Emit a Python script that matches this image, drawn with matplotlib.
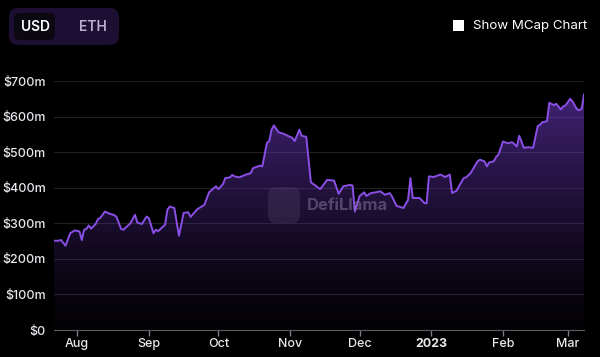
import matplotlib
matplotlib.use("Agg")
import matplotlib.pyplot as plt
import matplotlib.dates as mdates
from matplotlib.ticker import FuncFormatter
import numpy as np
import pandas as pd
from matplotlib.patches import FancyBboxPatch, Rectangle

# TVL (USD, millions) at its turning points
dates = [
    "2022-07-22", "2022-07-24", "2022-07-25", "2022-07-27", "2022-07-29", "2022-07-31",
    "2022-08-02", "2022-08-03", "2022-08-04", "2022-08-05", "2022-08-06", "2022-08-07",
    "2022-08-09", "2022-08-10", "2022-08-11", "2022-08-13", "2022-08-15", "2022-08-17",
    "2022-08-18", "2022-08-20", "2022-08-21", "2022-08-24", "2022-08-26", "2022-08-27",
    "2022-08-29", "2022-08-31", "2022-09-01", "2022-09-03", "2022-09-04", "2022-09-05",
    "2022-09-08", "2022-09-09", "2022-09-10", "2022-09-12", "2022-09-14", "2022-09-16",
    "2022-09-18", "2022-09-19", "2022-09-22", "2022-09-25", "2022-09-27", "2022-09-30",
    "2022-10-01", "2022-10-03", "2022-10-04", "2022-10-06", "2022-10-07", "2022-10-08",
    "2022-10-10", "2022-10-13", "2022-10-15", "2022-10-16", "2022-10-19", "2022-10-20",
    "2022-10-22", "2022-10-23", "2022-10-24", "2022-10-25", "2022-10-27", "2022-10-29",
    "2022-11-02", "2022-11-03", "2022-11-05", "2022-11-06", "2022-11-08", "2022-11-10",
    "2022-11-12", "2022-11-14", "2022-11-17", "2022-11-20", "2022-11-22", "2022-11-24",
    "2022-11-27", "2022-11-28", "2022-11-29", "2022-12-01", "2022-12-03", "2022-12-04",
    "2022-12-06", "2022-12-08", "2022-12-10", "2022-12-12", "2022-12-14", "2022-12-15",
    "2022-12-17", "2022-12-18", "2022-12-20", "2022-12-22", "2022-12-23", "2022-12-24",
    "2022-12-27", "2022-12-29", "2022-12-30", "2022-12-31", "2023-01-02", "2023-01-05",
    "2023-01-07", "2023-01-09", "2023-01-10", "2023-01-12", "2023-01-13", "2023-01-15",
    "2023-01-16", "2023-01-18", "2023-01-21", "2023-01-22", "2023-01-24", "2023-01-25",
    "2023-01-26", "2023-01-28", "2023-01-29", "2023-01-30", "2023-02-01", "2023-02-03",
    "2023-02-05", "2023-02-07", "2023-02-08", "2023-02-09", "2023-02-10", "2023-02-12",
    "2023-02-14", "2023-02-16", "2023-02-17", "2023-02-18", "2023-02-20", "2023-02-21",
    "2023-02-23", "2023-02-24", "2023-02-26", "2023-02-27", "2023-02-28", "2023-03-02",
    "2023-03-03", "2023-03-05", "2023-03-06", "2023-03-07", "2023-03-08",
]
tvl = [
    251, 251, 253, 237, 272, 280,
    277, 253, 282, 284, 294, 285,
    298, 312, 315, 333, 327, 323,
    318, 284, 282, 300, 324, 302,
    298, 319, 314, 272, 282, 278,
    296, 338, 347, 343, 265, 329,
    331, 318, 340, 352, 387, 404,
    396, 410, 427, 429, 436, 432,
    429, 437, 441, 455, 462, 460,
    526, 531, 563, 575, 556, 552,
    540, 531, 563, 546, 543, 415,
    406, 396, 422, 420, 383, 404,
    408, 406, 333, 376, 387, 377,
    385, 387, 390, 380, 385, 376,
    349, 347, 343, 366, 427, 371,
    371, 357, 356, 432, 430, 437,
    430, 437, 385, 392, 404, 427,
    429, 441, 474, 479, 474, 460,
    471, 474, 486, 493, 530, 525,
    528, 516, 546, 530, 512, 514,
    512, 573, 577, 584, 587, 639,
    632, 636, 620, 629, 631, 650,
    643, 620, 618, 622, 662,
]
y_ticks = [0, 100, 200, 300, 400, 500, 600, 700]

BG = "#000000"
LINE = "#8a4fe6"

x = mdates.date2num(pd.to_datetime(dates))
y = np.array(tvl, dtype=float)

fig = plt.figure(figsize=(6, 3.57), dpi=100, facecolor=BG)
ax = fig.add_axes([54 / 600, 27 / 357, 530 / 600, 249 / 357])
ax.set_facecolor(BG)

# gradient fill under the line
poly = ax.fill_between(x, y, 0, color="none", lw=0)
grad = np.linspace(0, 1, 256).reshape(-1, 1)
rgba = np.zeros((256, 1, 4))
rgba[..., 0] = 0.42
rgba[..., 1] = 0.22
rgba[..., 2] = 0.75
rgba[..., 3] = 0.03 + 0.62 * grad ** 1.3
img = ax.imshow(rgba, extent=[x[0], x[-1], 0, 700], origin="lower",
                aspect="auto", zorder=1)
img.set_clip_path(poly.get_paths()[0], transform=ax.transData)
ax.plot(x, y, color=LINE, lw=1.4, zorder=3)

ax.set_xlim(x[0], x[-1])
ax.set_ylim(0, 700)
ax.set_yticks(y_ticks)
ax.set_yticklabels([f"${v}m" if v else "$0" for v in y_ticks])
ax.grid(axis="y", color="#1f1f24", lw=0.8, zorder=0)
ax.set_axisbelow(True)


def month_label(t, pos=None):
    d = mdates.num2date(t)
    return str(d.year) if d.month == 1 else d.strftime("%b")


ax.xaxis.set_major_locator(mdates.MonthLocator())
ax.xaxis.set_major_formatter(FuncFormatter(month_label))
for spine in ("top", "right", "left"):
    ax.spines[spine].set_visible(False)
ax.spines["bottom"].set_color("#5a5a60")
ax.tick_params(axis="x", colors="#7a7a80", length=4, width=1,
               labelcolor="#e8e8ee", labelsize=9, pad=2)
ax.tick_params(axis="y", length=0, labelcolor="#e8e8ee", labelsize=9, pad=6)
fig.canvas.draw()
for lab in ax.get_xticklabels() + ax.get_yticklabels():
    lab.set_family("Inter")
    lab.set_fontweight("medium")
for lab in ax.get_xticklabels():
    if lab.get_text().isdigit():
        lab.set_fontweight("bold")

# overlay in pixel coordinates for the UI bits
ov = fig.add_axes([0, 0, 1, 1], zorder=5)
ov.set_xlim(0, 600)
ov.set_ylim(357, 0)
ov.axis("off")
ov.patch.set_alpha(0)

ov.add_patch(FancyBboxPatch((9, 8), 110, 37, boxstyle="round,pad=0,rounding_size=9",
                            fc="#1c0f33", ec="none"))
ov.add_patch(FancyBboxPatch((14, 13), 41, 27, boxstyle="round,pad=0,rounding_size=6",
                            fc="#0b0812", ec="none"))
ov.text(35, 27, "USD", color="#ffffff", fontsize=10, fontweight="semibold",
        ha="center", va="center", family="Inter")
ov.text(93, 27, "ETH", color="#b9aecb", fontsize=10, fontweight="semibold",
        ha="center", va="center", family="Inter")

ov.add_patch(Rectangle((453, 20), 11, 11, fc="#ffffff", ec="none"))
ov.text(473, 26, "Show MCap Chart", color="#ffffff", fontsize=9.6,
        ha="left", va="center", family="Inter")

# watermark
ov.add_patch(FancyBboxPatch((268, 187), 32, 36, boxstyle="round,pad=0,rounding_size=8",
                            fc="#5a4a70", ec="none", alpha=0.3))
ov.text(307, 206, "DefiLlama", color="#8a7a9e", alpha=0.5, fontsize=12,
        fontweight="bold", ha="left", va="center", family="Inter")

fig.savefig("out.png", dpi=100, facecolor=BG)
